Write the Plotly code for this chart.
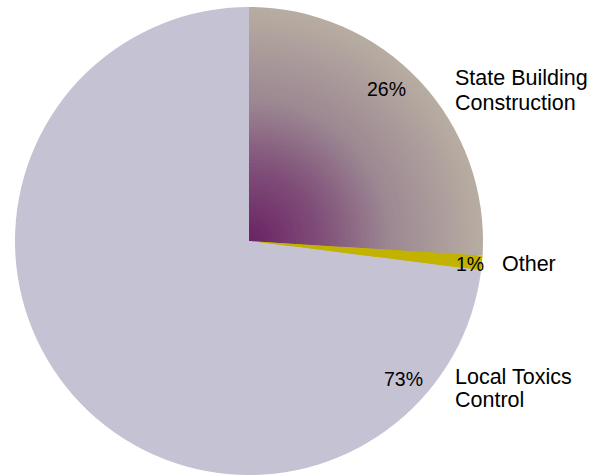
import plotly.graph_objects as go

# Budget share by program (percent)
categories = ["State Building Construction", "Other", "Local Toxics Control"]
shares = [26, 1, 73]
label_lines = [["State Building", "Construction"], ["Other"], ["Local Toxics", "Control"]]

# Base slice colours; the first slice is shaded from its centre outward
other_color = "#C2B300"
local_color = "#C5C3D3"
state_shade = [(0.0, "#6A2264"), (0.3, "#7F4D78"), (0.6, "#9C8892"), (1.0, "#B8ADA2")]

W, H = 598, 475
CX, CY, R = 249, 241, 234          # pie centre and radius in pixels
FONT = "Liberation Sans, Arial, sans-serif"
N_RINGS = 60


def hex_to_rgb(h):
    h = h.lstrip("#")
    return tuple(int(h[i:i + 2], 16) for i in (0, 2, 4))


def shade_at(t):
    for (t0, c0), (t1, c1) in zip(state_shade[:-1], state_shade[1:]):
        if t0 <= t <= t1:
            a = (t - t0) / (t1 - t0)
            r0, r1 = hex_to_rgb(c0), hex_to_rgb(c1)
            return "rgb({},{},{})".format(*[round(p + (q - p) * a) for p, q in zip(r0, r1)])
    return state_shade[-1][1]


fig = go.Figure()
# Stack progressively smaller copies of the pie so the first slice darkens toward the centre
for k in range(N_RINGS):
    f = 1 - k / N_RINGS
    t_mid = f - 0.5 / N_RINGS
    fig.add_trace(go.Pie(
        labels=categories,
        values=shares,
        sort=False,
        direction="clockwise",
        rotation=0,
        textinfo="none",
        hoverinfo="label+percent" if k == 0 else "skip",
        marker=dict(colors=[shade_at(t_mid), other_color, local_color], line=dict(width=0)),
        domain=dict(x=[(CX - R * f) / W, (CX + R * f) / W],
                    y=[(H - CY - R * f) / H, (H - CY + R * f) / H]),
        showlegend=False,
    ))

# Pixel anchors for the percent labels and the category names
pct_pos = [(386, 89), (470, 264), (403, 379)]
name_pos = [(453, [78, 103]), (500, [264]), (453, [377, 400])]

annotations = []
for v, (px, py) in zip(shares, pct_pos):
    annotations.append(dict(
        x=px / W, y=1 - py / H, xref="paper", yref="paper",
        text=f"{v}%", showarrow=False, xanchor="center", yanchor="middle",
        font=dict(family=FONT, size=19.5, color="#000000"),
    ))
for lines, (px, ys) in zip(label_lines, name_pos):
    for line, py in zip(lines, ys):
        annotations.append(dict(
            x=px / W, y=1 - py / H, xref="paper", yref="paper",
            text=line, showarrow=False, xanchor="left", yanchor="middle",
            font=dict(family=FONT, size=21.5, color="#000000"),
        ))

fig.update_layout(
    width=W, height=H,
    margin=dict(l=0, r=0, t=0, b=0),
    paper_bgcolor="#FFFFFF",
    plot_bgcolor="#FFFFFF",
    annotations=annotations,
)

fig.write_html("out.html")
